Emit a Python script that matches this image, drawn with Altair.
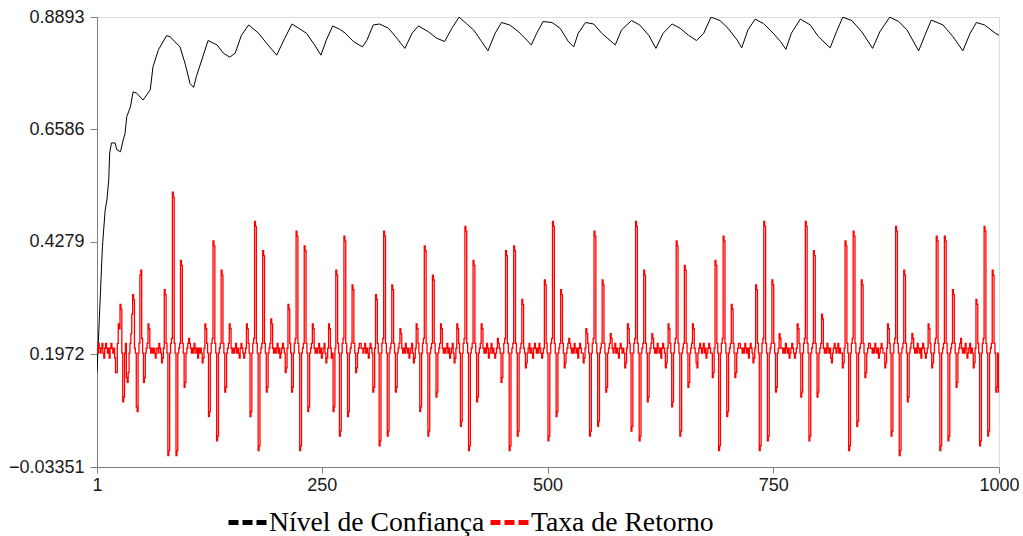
import altair as alt
import pandas as pd

# Axis ticks
x_ticks = [1, 250, 500, 750, 1000]
y_ticks = [-0.03351, 0.1972, 0.4279, 0.6586, 0.8893]

series_names = ["Nível de Confiança", "Taxa de Retorno"]
series_colors = ["#000000", "#ff0000"]

# Nível de Confiança: (step, value) readings along the curve
confianca_steps = [
    1, 4, 7, 10, 12, 14, 15, 17, 21, 23, 27, 30, 32, 34, 38, 41, 45, 52, 60, 63,
    69, 78, 82, 87, 93, 99, 104, 108, 111, 117, 124, 134, 141, 148, 154, 161, 169, 180, 189, 200,
    209, 217, 233, 242, 249, 255, 262, 270, 276, 285, 295, 300, 307, 314, 324, 333, 342, 350, 357, 368,
    377, 386, 394, 402, 410, 418, 427, 434, 442, 449, 458, 468, 477, 482, 488, 495, 505, 514, 523, 529,
    534, 542, 551, 560, 575, 582, 593, 602, 612, 620, 628, 638, 647, 656, 665, 673, 681, 691, 700, 710,
    715, 722, 730, 739, 750, 758, 764, 770, 780, 791, 800, 813, 820, 827, 837, 848, 860, 868, 879, 889,
    898, 911, 918, 925, 938, 949, 960, 968, 975, 984, 996, 1000,
]
confianca_values = [
    0.160, 0.289, 0.418, 0.493, 0.514, 0.555, 0.610, 0.631, 0.631, 0.617, 0.613, 0.637, 0.650, 0.685, 0.705, 0.736, 0.733, 0.719, 0.740, 0.787,
    0.822, 0.851, 0.849, 0.839, 0.828, 0.791, 0.753, 0.745, 0.767, 0.801, 0.841, 0.832, 0.815, 0.807, 0.815, 0.852, 0.873, 0.856, 0.835, 0.811,
    0.846, 0.875, 0.856, 0.832, 0.811, 0.842, 0.871, 0.864, 0.856, 0.839, 0.828, 0.842, 0.873, 0.875, 0.866, 0.846, 0.825, 0.856, 0.871, 0.859,
    0.846, 0.839, 0.866, 0.889, 0.876, 0.863, 0.839, 0.820, 0.856, 0.878, 0.873, 0.859, 0.842, 0.832, 0.856, 0.880, 0.878, 0.866, 0.839, 0.828,
    0.856, 0.878, 0.875, 0.856, 0.832, 0.863, 0.882, 0.873, 0.852, 0.825, 0.856, 0.875, 0.866, 0.852, 0.841, 0.856, 0.889, 0.882, 0.866, 0.842,
    0.826, 0.863, 0.885, 0.876, 0.856, 0.839, 0.823, 0.856, 0.885, 0.873, 0.849, 0.826, 0.859, 0.889, 0.882, 0.859, 0.825, 0.859, 0.889, 0.880,
    0.863, 0.820, 0.852, 0.883, 0.873, 0.849, 0.820, 0.856, 0.878, 0.873, 0.856, 0.852,
]

# Taxa de Retorno: one value per step
retorno_001_100 = [
    0.21, 0.20, 0.22, 0.21, 0.20, 0.21, 0.22, 0.20, 0.19, 0.21,
    0.22, 0.21, 0.20, 0.21, 0.19, 0.21, 0.22, 0.21, 0.20, 0.21,
    0.19, 0.16, 0.16, 0.22, 0.26, 0.25, 0.30, 0.29, 0.20, 0.10,
    0.11, 0.20, 0.22, 0.15, 0.14, 0.16, 0.20, 0.22, 0.24, 0.28,
    0.32, 0.31, 0.21, 0.20, 0.09, 0.08, 0.20, 0.22, 0.36, 0.37,
    0.23, 0.20, 0.14, 0.15, 0.20, 0.21, 0.22, 0.26, 0.25, 0.21,
    0.20, 0.21, 0.20, 0.21, 0.20, 0.19, 0.21, 0.21, 0.20, 0.22,
    0.21, 0.20, 0.18, 0.19, 0.21, 0.33, 0.32, 0.22, 0.20, -0.01,
    0.00, 0.20, 0.22, 0.23, 0.53, 0.52, 0.22, 0.20, -0.01, 0.00,
    0.20, 0.21, 0.22, 0.39, 0.38, 0.22, 0.20, 0.13, 0.14, 0.20,
]
retorno_101_200 = [
    0.21, 0.22, 0.23, 0.22, 0.21, 0.20, 0.21, 0.20, 0.22, 0.21,
    0.20, 0.21, 0.19, 0.21, 0.20, 0.21, 0.20, 0.18, 0.19, 0.21,
    0.26, 0.25, 0.22, 0.20, 0.07, 0.08, 0.20, 0.22, 0.23, 0.43,
    0.42, 0.22, 0.20, 0.02, 0.03, 0.20, 0.21, 0.22, 0.37, 0.36,
    0.22, 0.20, 0.12, 0.13, 0.20, 0.21, 0.22, 0.26, 0.25, 0.21,
    0.20, 0.21, 0.20, 0.21, 0.22, 0.20, 0.21, 0.20, 0.19, 0.21,
    0.22, 0.21, 0.20, 0.19, 0.20, 0.21, 0.26, 0.25, 0.22, 0.20,
    0.07, 0.08, 0.20, 0.22, 0.23, 0.47, 0.46, 0.22, 0.20, 0.00,
    0.01, 0.20, 0.21, 0.22, 0.41, 0.40, 0.22, 0.20, 0.12, 0.13,
    0.20, 0.21, 0.22, 0.27, 0.26, 0.21, 0.20, 0.21, 0.20, 0.21,
]
retorno_201_300 = [
    0.22, 0.20, 0.21, 0.19, 0.20, 0.21, 0.22, 0.21, 0.20, 0.16,
    0.17, 0.21, 0.30, 0.29, 0.22, 0.20, 0.12, 0.13, 0.20, 0.22,
    0.23, 0.45, 0.44, 0.22, 0.20, 0.00, 0.01, 0.20, 0.21, 0.22,
    0.42, 0.41, 0.22, 0.20, 0.08, 0.09, 0.20, 0.21, 0.22, 0.26,
    0.25, 0.21, 0.20, 0.21, 0.20, 0.21, 0.22, 0.20, 0.21, 0.19,
    0.20, 0.21, 0.22, 0.20, 0.18, 0.19, 0.21, 0.26, 0.25, 0.21,
    0.19, 0.20, 0.08, 0.09, 0.21, 0.37, 0.36, 0.22, 0.20, 0.03,
    0.04, 0.20, 0.22, 0.23, 0.44, 0.43, 0.22, 0.20, 0.07, 0.08,
    0.20, 0.21, 0.22, 0.34, 0.33, 0.22, 0.20, 0.16, 0.17, 0.20,
    0.21, 0.22, 0.22, 0.21, 0.21, 0.20, 0.21, 0.22, 0.20, 0.21,
]
retorno_301_400 = [
    0.20, 0.19, 0.21, 0.22, 0.21, 0.20, 0.12, 0.13, 0.21, 0.32,
    0.31, 0.22, 0.20, 0.01, 0.02, 0.20, 0.22, 0.23, 0.45, 0.44,
    0.22, 0.20, 0.03, 0.04, 0.20, 0.21, 0.22, 0.34, 0.33, 0.22,
    0.20, 0.12, 0.13, 0.20, 0.21, 0.22, 0.25, 0.24, 0.21, 0.20,
    0.21, 0.20, 0.22, 0.21, 0.20, 0.21, 0.19, 0.20, 0.21, 0.22,
    0.20, 0.18, 0.19, 0.21, 0.26, 0.25, 0.22, 0.20, 0.08, 0.09,
    0.20, 0.22, 0.23, 0.42, 0.41, 0.22, 0.20, 0.03, 0.04, 0.20,
    0.21, 0.22, 0.36, 0.35, 0.22, 0.20, 0.11, 0.12, 0.20, 0.21,
    0.22, 0.26, 0.25, 0.21, 0.20, 0.21, 0.20, 0.21, 0.22, 0.20,
    0.21, 0.19, 0.20, 0.21, 0.22, 0.20, 0.18, 0.19, 0.21, 0.26,
]
retorno_401_500 = [
    0.25, 0.22, 0.20, 0.05, 0.06, 0.20, 0.22, 0.23, 0.46, 0.45,
    0.22, 0.20, 0.00, 0.01, 0.20, 0.21, 0.22, 0.39, 0.38, 0.22,
    0.20, 0.10, 0.11, 0.20, 0.21, 0.22, 0.26, 0.25, 0.21, 0.20,
    0.21, 0.20, 0.22, 0.21, 0.19, 0.20, 0.21, 0.22, 0.20, 0.21,
    0.20, 0.19, 0.20, 0.21, 0.23, 0.22, 0.21, 0.20, 0.14, 0.15,
    0.20, 0.22, 0.23, 0.41, 0.40, 0.22, 0.20, 0.00, 0.01, 0.20,
    0.21, 0.22, 0.42, 0.41, 0.22, 0.20, 0.03, 0.04, 0.20, 0.21,
    0.22, 0.31, 0.30, 0.21, 0.20, 0.17, 0.18, 0.20, 0.21, 0.22,
    0.20, 0.21, 0.20, 0.19, 0.21, 0.22, 0.21, 0.20, 0.21, 0.20,
    0.22, 0.21, 0.20, 0.19, 0.20, 0.21, 0.35, 0.34, 0.22, 0.20,
]
retorno_501_600 = [
    0.02, 0.03, 0.20, 0.22, 0.23, 0.47, 0.46, 0.22, 0.20, 0.07,
    0.08, 0.20, 0.21, 0.22, 0.33, 0.32, 0.22, 0.20, 0.17, 0.18,
    0.20, 0.21, 0.22, 0.23, 0.22, 0.21, 0.20, 0.21, 0.20, 0.22,
    0.21, 0.20, 0.21, 0.19, 0.21, 0.22, 0.21, 0.20, 0.20, 0.18,
    0.19, 0.21, 0.25, 0.24, 0.22, 0.20, 0.03, 0.04, 0.20, 0.22,
    0.23, 0.45, 0.44, 0.22, 0.20, 0.05, 0.06, 0.20, 0.21, 0.22,
    0.35, 0.34, 0.22, 0.20, 0.12, 0.13, 0.20, 0.21, 0.22, 0.24,
    0.23, 0.21, 0.20, 0.21, 0.22, 0.20, 0.21, 0.20, 0.19, 0.21,
    0.22, 0.21, 0.20, 0.21, 0.20, 0.17, 0.18, 0.21, 0.26, 0.25,
    0.22, 0.20, 0.04, 0.05, 0.20, 0.22, 0.23, 0.47, 0.46, 0.22,
]
retorno_601_700 = [
    0.20, 0.02, 0.03, 0.20, 0.21, 0.22, 0.37, 0.36, 0.22, 0.20,
    0.10, 0.11, 0.20, 0.21, 0.22, 0.24, 0.23, 0.21, 0.20, 0.21,
    0.20, 0.22, 0.21, 0.20, 0.21, 0.19, 0.21, 0.22, 0.21, 0.20,
    0.17, 0.18, 0.21, 0.26, 0.25, 0.22, 0.20, 0.09, 0.10, 0.20,
    0.22, 0.23, 0.43, 0.42, 0.22, 0.20, 0.03, 0.04, 0.20, 0.21,
    0.22, 0.38, 0.37, 0.22, 0.20, 0.13, 0.14, 0.20, 0.21, 0.22,
    0.26, 0.25, 0.21, 0.20, 0.18, 0.17, 0.20, 0.21, 0.22, 0.21,
    0.20, 0.21, 0.22, 0.20, 0.21, 0.19, 0.20, 0.21, 0.22, 0.21,
    0.20, 0.20, 0.15, 0.16, 0.21, 0.39, 0.38, 0.22, 0.20, 0.00,
    0.01, 0.20, 0.22, 0.23, 0.44, 0.43, 0.22, 0.20, 0.07, 0.08,
]
retorno_701_800 = [
    0.20, 0.21, 0.22, 0.30, 0.29, 0.22, 0.20, 0.15, 0.16, 0.20,
    0.21, 0.22, 0.22, 0.21, 0.21, 0.20, 0.21, 0.20, 0.22, 0.21,
    0.20, 0.21, 0.19, 0.21, 0.22, 0.21, 0.20, 0.18, 0.19, 0.21,
    0.34, 0.33, 0.22, 0.20, 0.00, 0.01, 0.20, 0.22, 0.23, 0.47,
    0.46, 0.22, 0.20, 0.02, 0.03, 0.20, 0.21, 0.22, 0.35, 0.34,
    0.22, 0.20, 0.12, 0.13, 0.20, 0.21, 0.24, 0.23, 0.21, 0.21,
    0.20, 0.21, 0.20, 0.22, 0.21, 0.20, 0.21, 0.19, 0.20, 0.21,
    0.22, 0.21, 0.20, 0.19, 0.20, 0.21, 0.26, 0.25, 0.22, 0.20,
    0.11, 0.12, 0.20, 0.22, 0.23, 0.47, 0.46, 0.22, 0.20, 0.02,
    0.03, 0.20, 0.21, 0.22, 0.41, 0.40, 0.22, 0.20, 0.11, 0.12,
]
retorno_801_900 = [
    0.20, 0.21, 0.22, 0.28, 0.27, 0.21, 0.20, 0.21, 0.20, 0.22,
    0.21, 0.20, 0.21, 0.19, 0.18, 0.20, 0.21, 0.22, 0.21, 0.20,
    0.21, 0.22, 0.20, 0.21, 0.20, 0.20, 0.17, 0.18, 0.21, 0.43,
    0.42, 0.22, 0.20, 0.00, 0.01, 0.20, 0.22, 0.23, 0.45, 0.44,
    0.22, 0.20, 0.05, 0.06, 0.20, 0.21, 0.22, 0.35, 0.34, 0.22,
    0.20, 0.15, 0.16, 0.20, 0.21, 0.22, 0.22, 0.21, 0.21, 0.20,
    0.21, 0.20, 0.22, 0.21, 0.20, 0.21, 0.19, 0.20, 0.21, 0.22,
    0.21, 0.20, 0.20, 0.17, 0.18, 0.21, 0.26, 0.25, 0.22, 0.20,
    0.03, 0.04, 0.20, 0.22, 0.23, 0.46, 0.45, 0.22, 0.20, -0.01,
    0.00, 0.20, 0.21, 0.22, 0.37, 0.36, 0.22, 0.20, 0.10, 0.11,
]
retorno_901_1000 = [
    0.20, 0.21, 0.22, 0.24, 0.23, 0.21, 0.20, 0.21, 0.20, 0.22,
    0.21, 0.20, 0.21, 0.19, 0.21, 0.22, 0.21, 0.20, 0.19, 0.20,
    0.21, 0.26, 0.25, 0.22, 0.20, 0.17, 0.18, 0.20, 0.22, 0.23,
    0.44, 0.43, 0.22, 0.20, 0.00, 0.01, 0.20, 0.21, 0.22, 0.44,
    0.43, 0.22, 0.20, 0.02, 0.03, 0.20, 0.21, 0.22, 0.33, 0.32,
    0.22, 0.20, 0.13, 0.14, 0.20, 0.21, 0.22, 0.23, 0.21, 0.20,
    0.21, 0.20, 0.22, 0.21, 0.19, 0.20, 0.21, 0.22, 0.20, 0.21,
    0.20, 0.17, 0.18, 0.21, 0.31, 0.30, 0.22, 0.20, 0.01, 0.02,
    0.20, 0.22, 0.23, 0.46, 0.45, 0.22, 0.20, 0.03, 0.04, 0.20,
    0.21, 0.22, 0.37, 0.36, 0.22, 0.20, 0.12, 0.13, 0.20, 0.12,
]

retorno_values = (
    retorno_001_100 + retorno_101_200 + retorno_201_300 + retorno_301_400
    + retorno_401_500 + retorno_501_600 + retorno_601_700 + retorno_701_800
    + retorno_801_900 + retorno_901_1000
)

confianca_df = pd.DataFrame(
    {"passo": confianca_steps, "valor": confianca_values, "serie": series_names[0]}
)
retorno_df = pd.DataFrame(
    {
        "passo": list(range(1, len(retorno_values) + 1)),
        "valor": retorno_values,
        "serie": series_names[1],
    }
)

axis_gray = "#7f7f7f"
label_color = "#1a1a1a"
tick_font = "Liberation Sans"
legend_font = "Liberation Serif"

x_enc = alt.X(
    "passo:Q",
    scale=alt.Scale(domain=[1, 1000], nice=False, zero=False),
    axis=alt.Axis(
        values=x_ticks,
        format="d",
        title=None,
        grid=False,
        labelFont=tick_font,
        labelFontSize=18,
        labelColor=label_color,
        labelPadding=3,
        tickSize=6,
        labelFlush=False,
        labelOverlap=False,
        domainColor=axis_gray,
        tickColor=axis_gray,
    ),
)
y_enc = alt.Y(
    "valor:Q",
    scale=alt.Scale(domain=[-0.03351, 0.8893], nice=False, zero=False),
    axis=alt.Axis(
        values=y_ticks,
        format=".4r",
        title=None,
        grid=False,
        labelFont=tick_font,
        labelFontSize=18,
        labelColor=label_color,
        labelPadding=6,
        tickSize=7,
        labelFlush=False,
        labelOverlap=False,
        domainColor=axis_gray,
        tickColor=axis_gray,
    ),
)


def series_legend(x_pos):
    return alt.Legend(
        title=None,
        orient="none",
        legendX=x_pos,
        legendY=484,
        direction="horizontal",
        symbolType="stroke",
        symbolStrokeWidth=5,
        symbolDash=[10, 4],
        symbolSize=1444,
        labelFont=legend_font,
        labelFontSize=27.7,
        labelColor="#000000",
        labelOffset=0,
        padding=0,
        labelLimit=0,
    )


# Confidence level: polyline through the readings
confianca_line = (
    alt.Chart(confianca_df)
    .mark_line(strokeWidth=1, clip=True)
    .encode(
        x=x_enc,
        y=y_enc,
        color=alt.Color(
            "serie:N",
            scale=alt.Scale(domain=[series_names[0]], range=[series_colors[0]]),
            legend=series_legend(129),
        ),
    )
)

# Return rate: one held value per step
retorno_line = (
    alt.Chart(retorno_df)
    .mark_line(strokeWidth=1.3, clip=True, interpolate="step")
    .encode(
        x=x_enc,
        y=y_enc,
        color=alt.Color(
            "serie:N",
            scale=alt.Scale(domain=[series_names[1]], range=[series_colors[1]]),
            legend=series_legend(391),
        ),
    )
)

chart = (
    alt.layer(confianca_line, retorno_line)
    .resolve_scale(color="independent")
    .resolve_legend(color="independent")
    .properties(
        width=902,
        height=450,
        padding={"left": 97, "top": 17, "right": 24, "bottom": 69},
        autosize=alt.AutoSizeParams(type="none"),
    )
    .configure_view(stroke=axis_gray, strokeWidth=1)
    .configure(background="#ffffff")
)

chart.save("out.html", embed_options={"renderer": "svg", "actions": False})
